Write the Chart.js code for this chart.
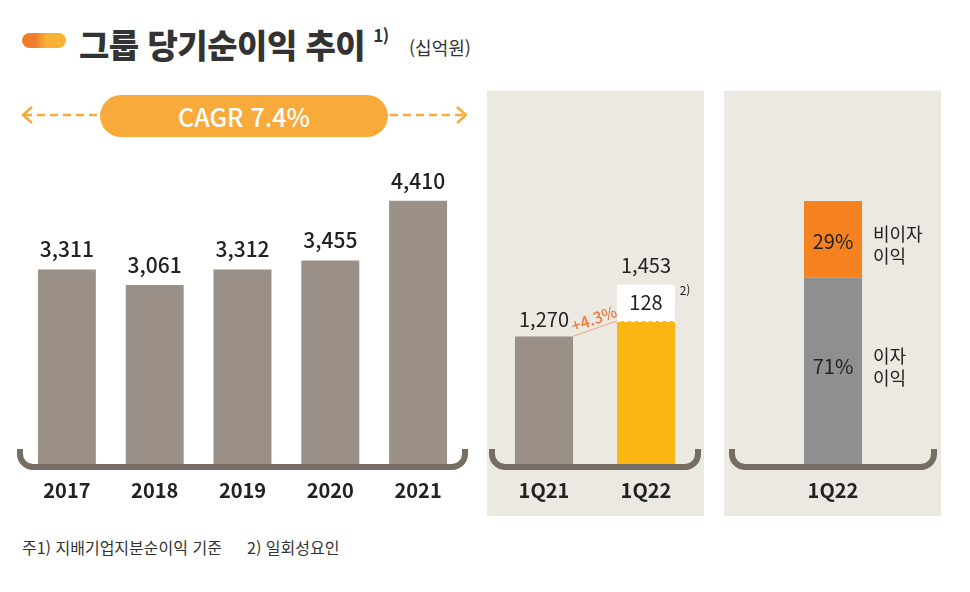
<!DOCTYPE html>
<html lang="ko">
<head>
<meta charset="utf-8">
<script src="https://cdn.jsdelivr.net/npm/chart.js@4.4.1/dist/chart.umd.min.js"></script>
<style>
  body { margin: 0; width: 970px; height: 592px; background: #fff; position: relative; overflow: hidden;
         font-family: 'Noto Sans CJK KR', 'Noto Sans', sans-serif; color: #2b2b2b; }
  .abs { position: absolute; }
  .pill-icon { left: 22px; top: 33px; width: 44px; height: 15px; border-radius: 8px;
               background: linear-gradient(90deg, #ef7d2d 0%, #ef7d2d 30%, #f9b233 55%, #f9b233 100%); }
  .title { left: 79px; top: 16px; font-size: 33px; font-weight: 900; line-height: 46px; color: #333; letter-spacing: -0.5px; white-space: nowrap; }
  .title sup { font-size: 17px; font-weight: 700; position: relative; top: -4px; margin-left: 8px; }
  .unit { left: 409px; top: 34px; font-size: 18px; line-height: 26px; color: #333; }
  .cagr { left: 100px; top: 95px; width: 288px; height: 42px; border-radius: 21px; background: #f8ab3a;
          color: #fff; font-size: 25px; font-weight: 500; line-height: 42px; text-align: center; }
  .panel { background: #ece9e2; }
  .note { top: 535px; font-size: 16px; line-height: 24px; color: #333; }
  canvas { position: absolute; }
</style>
</head>
<body>
<div class="abs pill-icon"></div>
<div class="abs title">그룹 당기순이익 추이<sup>1)</sup></div>
<div class="abs unit">(십억원)</div>

<svg class="abs" style="left:0;top:95px" width="480" height="42">
  <g stroke="#f6ab3c" stroke-width="2.5" fill="none">
    <line x1="24" y1="20" x2="98" y2="20" stroke-dasharray="8 5"/>
    <polyline points="32,12 23,20 32,28"/>
    <line x1="390" y1="20" x2="465" y2="20" stroke-dasharray="8 5"/>
    <polyline points="457,12 466,20 457,28"/>
  </g>
</svg>
<div class="abs cagr">CAGR 7.4%</div>

<div class="abs panel" style="left:487px;top:91px;width:217px;height:425px"></div>
<div class="abs panel" style="left:724px;top:91px;width:217px;height:425px"></div>

<canvas id="annualChart" width="485" height="370" style="left:0;top:150px"></canvas>
<canvas id="quarterChart" width="217" height="370" style="left:487px;top:150px"></canvas>
<canvas id="mixChart" width="217" height="370" style="left:724px;top:150px"></canvas>

<div class="abs note" style="left:22px">주1) 지배기업지분순이익 기준</div>
<div class="abs note" style="left:247px">2) 일회성요인</div>

<script>
// ── DATA ──
const years = ['2017', '2018', '2019', '2020', '2021'];
const annualProfit = [3311, 3061, 3312, 3455, 4410];

const quarters = ['1Q21', '1Q22'];
const quarterRecurring = [1270, 1325];
const quarterOneOff = [null, 128];
const quarterGrowthLabel = '+4.3%';

const mixQuarter = ['1Q22'];
const interestShare = [71];
const nonInterestShare = [29];
const mixLabels = ['이자\n이익', '비이자\n이익'];

const FONT = "'Noto Sans CJK KR', 'Noto Sans', sans-serif";
const COLORS = {
  bar: '#9a9087',
  yellow: '#fcb614',
  orange: '#f5821f',
  grey: '#8f8f8f',
  bracket: '#766d64',
  text: '#222',
  growth: '#ef7a3a',
};

const fmt = (v) => v.toLocaleString('en-US');

// curly bottom bracket under the bars, drawn over the bar bases
const bracketPlugin = {
  id: 'bracket',
  afterDatasetsDraw(chart, args, opts) {
    const { ctx, chartArea: a } = chart;
    const inset = opts.inset || 0;
    const l = a.left - inset, r = a.right + inset, y = a.bottom + 1, h = 18, rad = 13;
    ctx.save();
    ctx.strokeStyle = COLORS.bracket;
    ctx.lineWidth = 6;
    ctx.beginPath();
    ctx.moveTo(l, y - h);
    ctx.arcTo(l, y, l + rad, y, rad);
    ctx.lineTo(r - rad, y);
    ctx.arcTo(r, y, r, y - h, rad);
    ctx.lineTo(r, y - h);
    ctx.stroke();
    ctx.restore();
  },
};

const xAxis = {
  grid: { display: false, drawTicks: false },
  border: { display: false },
  ticks: { color: COLORS.text, padding: 12, font: { family: FONT, size: 20, weight: 'bold' } },
};

const baseOptions = (padding) => ({
  responsive: false,
  animation: false,
  events: [],
  layout: { padding },
  plugins: { legend: { display: false }, tooltip: { enabled: false } },
});

// ── ANNUAL ──
new Chart(document.getElementById('annualChart'), {
  type: 'bar',
  data: {
    labels: years,
    datasets: [{ data: annualProfit, backgroundColor: COLORS.bar, categoryPercentage: 1, barPercentage: 0.66 }],
  },
  options: {
    ...baseOptions({ left: 23, right: 23, top: 30, bottom: 6 }),
    scales: { x: xAxis, y: { display: false, min: 170, max: 4741 } },
    plugins: {
      legend: { display: false }, tooltip: { enabled: false },
      bracket: { inset: 3 },
    },
  },
  plugins: [bracketPlugin, {
    id: 'annualLabels',
    afterDatasetsDraw(chart) {
      const { ctx } = chart;
      ctx.save();
      ctx.font = `500 21px ${FONT}`;
      ctx.fillStyle = COLORS.text;
      ctx.textAlign = 'center';
      ctx.textBaseline = 'middle';
      chart.getDatasetMeta(0).data.forEach((bar, i) => {
        ctx.fillText(fmt(annualProfit[i]), bar.x, bar.y - 20);
      });
      ctx.restore();
    },
  }],
});

// ── QUARTER ──
new Chart(document.getElementById('quarterChart'), {
  type: 'bar',
  data: {
    labels: quarters,
    datasets: [
      { data: quarterRecurring, backgroundColor: [COLORS.bar, COLORS.yellow], categoryPercentage: 1, barPercentage: 0.569, clip: 0 },
      { data: quarterOneOff, backgroundColor: '#fff', categoryPercentage: 1, barPercentage: 0.569, clip: 0 },
    ],
  },
  options: {
    ...baseOptions({ left: 6, right: 7, top: 50, bottom: 6 }),
    scales: {
      x: { ...xAxis, stacked: true },
      y: { display: false, stacked: true, min: 810, max: 1754 },
    },
    plugins: {
      legend: { display: false }, tooltip: { enabled: false },
      bracket: { inset: 1 },
    },
  },
  plugins: [bracketPlugin, {
    id: 'quarterLabels',
    afterDatasetsDraw(chart) {
      const { ctx } = chart;
      const base = chart.getDatasetMeta(0).data;
      const extra = chart.getDatasetMeta(1).data;
      ctx.save();
      ctx.textAlign = 'center';
      ctx.textBaseline = 'middle';

      // dashed seam between recurring and one-off part
      const b1 = base[1];
      ctx.strokeStyle = '#fff';
      ctx.lineWidth = 2;
      ctx.setLineDash([4, 3]);
      ctx.beginPath();
      ctx.moveTo(b1.x - b1.width / 2, b1.y);
      ctx.lineTo(b1.x + b1.width / 2, b1.y);
      ctx.stroke();
      ctx.setLineDash([]);

      // growth connector
      const b0 = base[0];
      const x0 = b0.x + b0.width / 2, y0 = b0.y;
      const x1 = b1.x - b1.width / 2, y1 = b1.y;
      ctx.strokeStyle = '#f4a27c';
      ctx.lineWidth = 1;
      ctx.beginPath();
      ctx.moveTo(x0, y0);
      ctx.lineTo(x1, y1);
      ctx.stroke();
      ctx.save();
      ctx.translate((x0 + x1) / 2 - 1, (y0 + y1) / 2 - 10);
      ctx.rotate(Math.atan2(y1 - y0, x1 - x0));
      ctx.font = `500 16px ${FONT}`;
      ctx.fillStyle = COLORS.growth;
      ctx.fillText(quarterGrowthLabel, 0, 0);
      ctx.restore();

      ctx.fillStyle = COLORS.text;
      ctx.font = `400 20px ${FONT}`;
      ctx.fillText(fmt(quarterRecurring[0]), b0.x, b0.y - 17);
      ctx.fillText(fmt(quarterRecurring[1]), b1.x, b1.y + (b1.base - b1.y) * 0.56);
      const e1 = extra[1];
      ctx.fillText(fmt(quarterOneOff[1]), e1.x, (e1.y + e1.base) / 2);
      ctx.fillText(fmt(quarterRecurring[1] + quarterOneOff[1]), e1.x, e1.y - 19);
      ctx.font = `400 12px ${FONT}`;
      ctx.fillText('2)', e1.x + e1.width / 2 + 10, e1.y + 6);
      ctx.restore();
    },
  }],
});

// ── MIX ──
// label offsets from each segment's middle: [value, series name]
const mixOffsets = [[-6, -16], [2, -5]];

new Chart(document.getElementById('mixChart'), {
  type: 'bar',
  data: {
    labels: mixQuarter,
    datasets: [
      { label: mixLabels[0], data: interestShare, backgroundColor: COLORS.grey, categoryPercentage: 1, barPercentage: 0.29 },
      { label: mixLabels[1], data: nonInterestShare, backgroundColor: COLORS.orange, categoryPercentage: 1, barPercentage: 0.29 },
    ],
  },
  options: {
    ...baseOptions({ left: 9, right: 8, top: 51, bottom: 6 }),
    scales: {
      x: { ...xAxis, stacked: true },
      y: { display: false, stacked: true, min: 0, max: 100 },
    },
    plugins: {
      legend: { display: false }, tooltip: { enabled: false },
      bracket: { inset: 1 },
    },
  },
  plugins: [bracketPlugin, {
    id: 'mixLabels',
    afterDatasetsDraw(chart) {
      const { ctx } = chart;
      ctx.save();
      ctx.textBaseline = 'middle';
      chart.data.datasets.forEach((ds, i) => {
        const bar = chart.getDatasetMeta(i).data[0];
        const cy = (bar.y + bar.base) / 2;
        const [vOff, lOff] = mixOffsets[i];
        ctx.fillStyle = COLORS.text;
        ctx.textAlign = 'center';
        ctx.font = `400 20px ${FONT}`;
        ctx.fillText(ds.data[0] + '%', bar.x, cy + vOff);
        ctx.textAlign = 'left';
        ctx.font = `400 18px ${FONT}`;
        ds.label.split('\n').forEach((line, j) => {
          ctx.fillText(line, bar.x + bar.width / 2 + 11, cy + lOff + j * 22);
        });
      });
      ctx.restore();
    },
  }],
});
</script>
</body>
</html>
